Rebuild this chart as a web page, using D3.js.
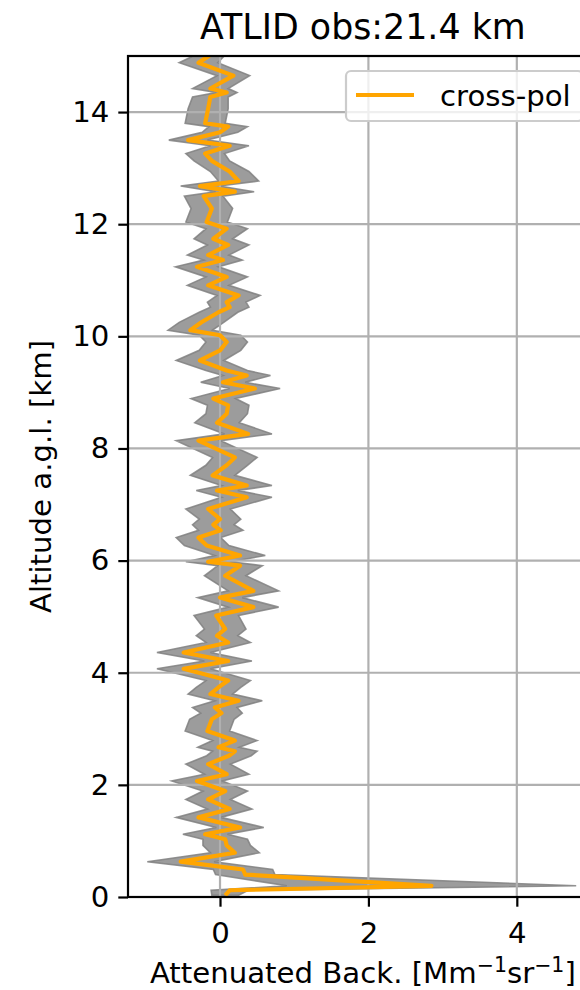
<!DOCTYPE html>
<html><head><meta charset="utf-8">
<script src="https://cdn.jsdelivr.net/npm/d3@7"></script>
<style>body{margin:0;background:#fff}svg{display:block;font-family:"DejaVu Sans",sans-serif}</style>
</head><body>
<svg id="c" width="580" height="990"></svg>
<script>
const altitude = [0.03,0.12,0.20,0.40,0.49,0.63,0.79,0.92,1.03,1.12,1.24,1.42,1.57,1.74,1.89,2.07,2.19,2.37,2.52,2.60,2.67,2.79,2.96,3.17,3.28,3.38,3.50,3.62,3.74,3.86,4.07,4.21,4.36,4.54,4.66,4.78,5.02,5.17,5.34,5.46,5.73,5.91,5.98,6.09,6.27,6.41,6.54,6.64,6.74,6.92,7.13,7.25,7.34,7.52,7.70,7.84,8.14,8.26,8.46,8.62,8.77,8.89,9.07,9.18,9.30,9.39,9.57,9.75,9.90,10.02,10.11,10.25,10.43,10.52,10.61,10.73,10.91,11.06,11.24,11.36,11.45,11.63,11.74,11.92,12.04,12.28,12.50,12.58,12.68,12.77,12.94,13.13,13.26,13.40,13.50,13.64,13.74,13.80,14.06,14.27,14.35,14.42,14.65,14.88,15.02];
const crossPol = [0.07,0.13,2.85,0.34,0.31,-0.53,0.20,0.09,0.07,-0.20,0.27,-0.29,0.13,-0.16,0.07,-0.31,0.09,-0.16,0.12,0.20,-0.02,0.20,-0.17,-0.11,0.02,-0.07,0.25,-0.13,-0.02,0.11,-0.49,0.11,-0.49,0.11,-0.04,0.07,-0.05,0.45,0.00,0.45,0.07,0.27,-0.16,0.27,-0.18,-0.29,0.01,-0.09,0.00,-0.16,0.36,-0.04,0.36,-0.10,0.09,0.20,-0.29,0.38,-0.04,0.09,0.11,-0.09,0.47,0.04,0.36,0.09,-0.27,0.00,0.09,0.00,-0.40,-0.25,-0.02,0.13,0.09,0.25,-0.16,0.09,-0.31,0.04,-0.16,0.11,-0.09,0.09,-0.18,-0.11,-0.22,0.20,-0.27,0.25,0.13,-0.11,-0.20,0.13,-0.43,0.00,0.11,-0.20,-0.16,-0.13,0.09,-0.13,0.18,-0.29,-0.13];
const spread = [0.18,0.25,1.95,0.40,0.40,0.45,0.33,0.32,0.30,0.30,0.32,0.30,0.30,0.30,0.30,0.34,0.30,0.30,0.30,0.30,0.28,0.30,0.30,0.30,0.28,0.30,0.32,0.30,0.30,0.30,0.36,0.32,0.36,0.30,0.28,0.28,0.30,0.34,0.30,0.34,0.28,0.30,0.30,0.34,0.30,0.30,0.30,0.28,0.28,0.30,0.34,0.28,0.34,0.30,0.28,0.30,0.30,0.32,0.30,0.28,0.28,0.30,0.34,0.30,0.32,0.28,0.32,0.28,0.28,0.28,0.30,0.30,0.26,0.26,0.26,0.29,0.28,0.28,0.29,0.26,0.28,0.28,0.26,0.28,0.28,0.28,0.26,0.26,0.26,0.27,0.26,0.24,0.26,0.26,0.26,0.24,0.26,0.27,0.27,0.24,0.14,0.24,0.22,0.26,0.20];
const xTicks = [0,2,4];
const yTicks = [0,2,4,6,8,10,12,14];
const titleText = "ATLID obs:21.4 km";
const legendLabel = "cross-pol";

const svg = d3.select("#c");
const L = 128, T = 56, R = 597.7, B = 897;
const FS = 29.2;
const x = d3.scaleLinear().domain([-1.24, 5.09]).range([L, R]);
const y = d3.scaleLinear().domain([0, 15]).range([B, T]);
const data = altitude.map((a,i)=>({a, v:crossPol[i], e:spread[i]}));

svg.append("defs").append("clipPath").attr("id","clip")
  .append("rect").attr("x",L).attr("y",T).attr("width",R-L).attr("height",B-T);
const plot = svg.append("g").attr("clip-path","url(#clip)");

// band
const area = d3.area().y(d=>y(d.a)).x0(d=>x(d.v-d.e)).x1(d=>x(d.v+d.e)).curve(d3.curveLinear);
plot.append("path").datum(data).attr("d",area)
  .attr("fill","#808080").attr("fill-opacity",0.78)
  .attr("stroke","#808080").attr("stroke-opacity",0.85).attr("stroke-width",1.6);

// grid
const grid = plot.append("g").attr("stroke","#b0b0b0").attr("stroke-width",2.2);
xTicks.forEach(t=>grid.append("line").attr("x1",x(t)).attr("x2",x(t)).attr("y1",T).attr("y2",B));
yTicks.forEach(t=>grid.append("line").attr("y1",y(t)).attr("y2",y(t)).attr("x1",L).attr("x2",R));

// line
plot.append("path").datum(data)
  .attr("d", d3.line().x(d=>x(d.v)).y(d=>y(d.a)))
  .attr("fill","none").attr("stroke","#ffa500").attr("stroke-width",4.2).attr("stroke-linejoin","round");

// axes
const xAxis = d3.axisBottom(x).tickValues(xTicks).tickFormat(d3.format("d")).tickSize(9.7).tickPadding(9);
const yAxis = d3.axisLeft(y).tickValues(yTicks).tickFormat(d3.format("d")).tickSize(9.7).tickPadding(9);
const gx = svg.append("g").attr("transform",`translate(0,${B})`).call(xAxis);
const gy = svg.append("g").attr("transform",`translate(${L},0)`).call(yAxis);
[gx,gy].forEach(g=>{
  g.select(".domain").remove();
  g.selectAll(".tick line").attr("stroke","#000").attr("stroke-width",2.2);
  g.selectAll(".tick text").attr("font-size",FS).attr("fill","#000").attr("font-family","DejaVu Sans");
});
gx.selectAll(".tick text").attr("dy","0.92em");

// spines
svg.append("rect").attr("x",L).attr("y",T).attr("width",R-L).attr("height",B-T)
  .attr("fill","none").attr("stroke","#000").attr("stroke-width",2.2);

// title
svg.append("text").attr("x",(L+R)/2).attr("y",39).attr("text-anchor","middle")
  .attr("font-size",34.8).text(titleText);

// x label
const xl = svg.append("text").attr("x",(L+R)/2).attr("y",983).attr("text-anchor","middle").attr("font-size",FS);
xl.append("tspan").text("Attenuated Back. [Mm");
xl.append("tspan").attr("font-size",20.5).attr("dy",-11.5).text("−1");
xl.append("tspan").attr("dy",11.5).text("sr");
xl.append("tspan").attr("font-size",20.5).attr("dy",-11.5).text("−1");
xl.append("tspan").attr("dy",11.5).text("]");

// y label
svg.append("text").attr("transform",`translate(51,${(T+B)/2}) rotate(-90)`)
  .attr("text-anchor","middle").attr("font-size",FS).text("Altitude a.g.l. [km]");

// legend
const lg = svg.append("g");
lg.append("rect").attr("x",346).attr("y",71).attr("width",237).attr("height",50).attr("rx",5)
  .attr("fill","#fff").attr("fill-opacity",0.8).attr("stroke","#cccccc").attr("stroke-width",2.2);
lg.append("line").attr("x1",356).attr("x2",414).attr("y1",95).attr("y2",95)
  .attr("stroke","#ffa500").attr("stroke-width",4.2);
lg.append("text").attr("x",440).attr("y",106).attr("font-size",FS).text(legendLabel);
</script>
</body></html>
